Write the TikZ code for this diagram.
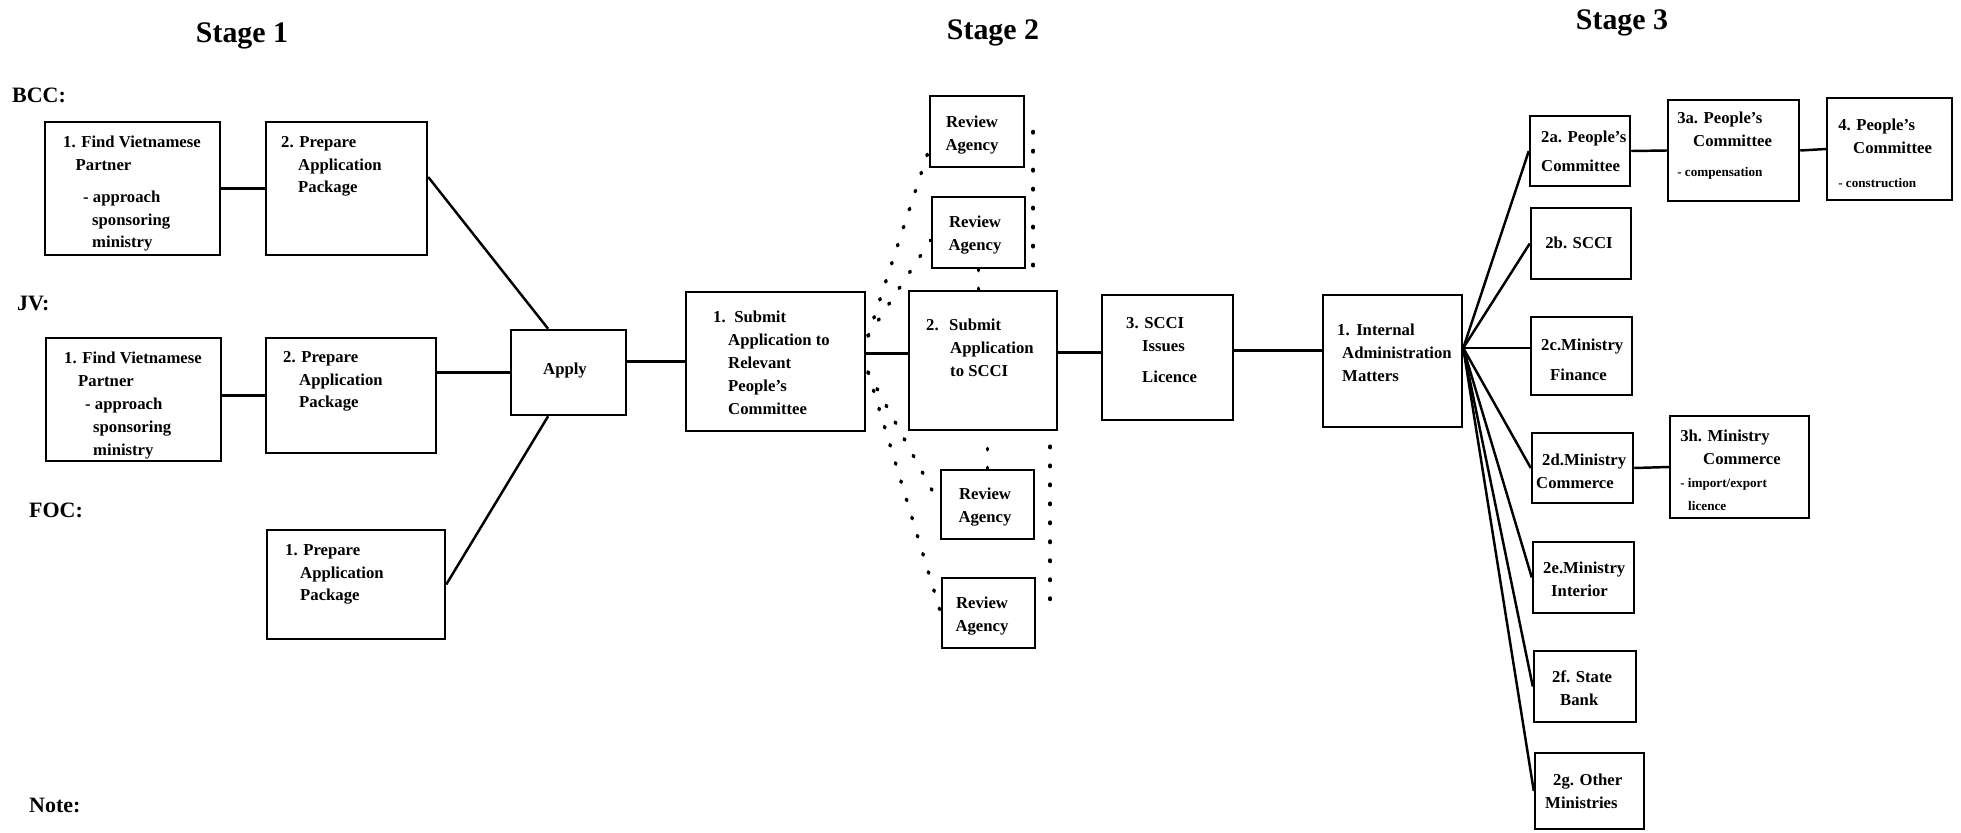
\documentclass[tikz,border=0pt]{standalone}
\usepackage{fontspec}
\setmainfont{Liberation Serif}
\usetikzlibrary{fit}
\newcommand{\smallfont}{\fontsize{7.5}{9}\selectfont}
\tikzset{box/.style={draw, line width=1.4pt, inner sep=0pt},
txt/.style={inner sep=0pt, anchor=north west, align=left, font=\fontsize{9.5}{13}\selectfont\bfseries},
stage/.style={inner sep=0pt, font=\fontsize{17}{20}\selectfont\bfseries},
kind/.style={inner sep=0pt, anchor=west, font=\fontsize{12.5}{15}\selectfont\bfseries},
dotline/.style={line width=2pt, line cap=round, dash pattern=on 0.8pt off 10pt}}

\begin{document}
\begin{tikzpicture}[x=0.02cm, y=-0.02cm, line width=1.4pt]
\useasboundingbox (0,0) rectangle (1961,832);

    % headings
    \node[stage] (st1) at (242,36) {Stage 1};
    \node[stage] (st2) at (993,33) {Stage 2};
    \node[stage] (st3) at (1622,23) {Stage 3};

    \node[kind] (bcc) at (11,95) {BCC:};
    \node[kind] (jv) at (16,303) {JV:};
    \node[kind] (foc) at (28,510) {FOC:};
    \node[kind] (note) at (28,805) {Note:};

    % stage 1
    \node[box, fit={(45,122) (220,255)}] (bccfind) {};
    \node[box, fit={(266,122) (427,255)}] (bccprep) {};
    \node[box, fit={(46,338) (221,461)}] (jvfind) {};
    \node[box, fit={(266,338) (436,453)}] (jvprep) {};
    \node[box, fit={(267,530) (445,639)}] (focprep) {};
    \node[box, fit={(511,330) (626,415)}] (apply) {};

    \node[txt] (bccfind-t) at (62,135) {1. Find Vietnamese\\ \hspace*{0.25cm}Partner\\[5pt] \hspace*{0.4cm}- approach\\ \hspace*{0.58cm}sponsoring\\ \hspace*{0.58cm}ministry};
    \node[txt] (bccprep-t) at (280,135) {2. Prepare\\ \hspace*{0.34cm}Application\\ \hspace*{0.34cm}Package};
    \node[txt] (jvfind-t) at (63,351) {1. Find Vietnamese\\ \hspace*{0.28cm}Partner\\ \hspace*{0.42cm}- approach\\ \hspace*{0.58cm}sponsoring\\ \hspace*{0.58cm}ministry};
    \node[txt] (jvprep-t) at (282,350) {2. Prepare\\ \hspace*{0.32cm}Application\\ \hspace*{0.32cm}Package};
    \node[txt] (focprep-t) at (284,543) {1. Prepare\\ \hspace*{0.3cm}Application\\ \hspace*{0.3cm}Package};
    \node[txt, anchor=center] (apply-t) at (565,371) {Apply};

    % stage 2
    \node[box, fit={(686,292) (865,431)}] (subpc) {};
    \node[box, fit={(930,96) (1024,167)}] (ra1) {};
    \node[box, fit={(932,197) (1025,268)}] (ra2) {};
    \node[box, fit={(909,291) (1057,430)}] (subscci) {};
    \node[box, fit={(941,470) (1034,539)}] (ra3) {};
    \node[box, fit={(942,578) (1035,648)}] (ra4) {};
    \node[box, fit={(1102,295) (1233,420)}] (licence) {};

    \node[txt] (subpc-t) at (712,310) {1.\hspace{0.17cm}Submit\\ \hspace*{0.3cm}Application to\\ \hspace*{0.3cm}Relevant\\ \hspace*{0.3cm}People's\\ \hspace*{0.3cm}Committee};
    \node[txt, anchor=center, align=center] (ra1-t) at (972,135) {Review\\Agency};
    \node[txt, anchor=center, align=center] (ra2-t) at (975,235) {Review\\Agency};
    \node[txt] (subscci-t) at (925,318) {2.\hspace{0.21cm}Submit\\ \hspace*{0.48cm}Application\\ \hspace*{0.48cm}to SCCI};
    \node[txt, anchor=center, align=center] (ra3-t) at (985,507) {Review\\Agency};
    \node[txt, anchor=center, align=center] (ra4-t) at (982,616) {Review\\Agency};
    \node[txt] (licence-t) at (1125,316) {3. SCCI\\ \hspace*{0.32cm}Issues\\[5pt] \hspace*{0.32cm}Licence};

    % stage 3
    \node[box, fit={(1323,295) (1462,427)}] (internal) {};
    \node[box, fit={(1530,116) (1630,186)}] (pc2a) {};
    \node[box, fit={(1531,208) (1631,279)}] (scci2b) {};
    \node[box, fit={(1531,317) (1632,395)}] (fin2c) {};
    \node[box, fit={(1532,433) (1633,503)}] (com2d) {};
    \node[box, fit={(1533,542) (1634,613)}] (int2e) {};
    \node[box, fit={(1534,651) (1636,722)}] (bank2f) {};
    \node[box, fit={(1535,753) (1644,829)}] (oth2g) {};
    \node[box, fit={(1668,100) (1799,201)}] (pc3a) {};
    \node[box, fit={(1827,98) (1952,200)}] (pc4) {};
    \node[box, fit={(1670,416) (1809,518)}] (com3h) {};

    \node[txt] (internal-t) at (1336,323) {1.\hspace{0.13cm}Internal\\ \hspace*{0.1cm}Administration\\ \hspace*{0.1cm}Matters};
    \node[txt] (pc2a-t) at (1540,130) {2a. People's\\[3.5pt] Committee};
    \node[txt, anchor=center] (scci2b-t) at (1579,243) {2b. SCCI};
    \node[txt] (fin2c-t) at (1540,338) {2c.Ministry\\[4pt] \hspace*{0.18cm}Finance};
    \node[txt] (com2d-t) at (1535,453) {\hspace*{0.12cm}2d.Ministry\\ Commerce};
    \node[txt] (int2e-t) at (1542,561) {2e.Ministry\\ \hspace*{0.16cm}Interior};
    \node[txt] (bank2f-t) at (1551,670) {2f. State\\ \hspace*{0.16cm}Bank};
    \node[txt] (oth2g-t) at (1544,773) {\hspace*{0.16cm}2g. Other\\ Ministries};
    \node[txt] (pc3a-t) at (1676,111) {3a. People's\\ \hspace*{0.32cm}Committee\\[4pt] {\smallfont - compensation}};
    \node[txt] (pc4-t) at (1837,118) {4. People's\\ \hspace*{0.3cm}Committee\\[6pt] {\smallfont - construction}};
    \node[txt] (com3h-t) at (1679,429) {3h. Ministry\\ \hspace*{0.46cm}Commerce\\ {\smallfont - import/export}\\ {\smallfont\hspace*{0.16cm}licence}};

    % connectors
    \draw (bccfind.east) -- (bccprep.west);
    \draw (jvprep.west -| jvfind.east) -- (jvprep.west);
    \draw (bccprep.8) -- (apply.115);
    \draw (apply.west) -- (apply.west -| jvprep.east);
    \draw (focprep.east) -- (apply.245);
    \draw (subpc.west -| apply.east) -- (subpc.west);
    \draw ([yshift=0.16cm]subpc.east) -- ([yshift=0.16cm]subpc.east -| subscci.west);
    \draw ([yshift=0.16cm]subscci.east) -- ([yshift=0.16cm]subscci.east -| licence.west);
    \draw ([yshift=0.14cm]licence.east) -- ([yshift=0.14cm]licence.east -| internal.west);

    \coordinate (fan) at ([yshift=0.26cm]internal.east);
    \foreach \n in {pc2a, scci2b, com2d, int2e, bank2f, oth2g}
    \draw (fan) -- (\n.west);
    \draw (fan) -- (fan -| fin2c.west);

    \draw (pc2a.east) -- (pc3a.west);
    \draw (pc3a.east) -- (pc4.west);
    \draw (com2d.east) -- (com3h.west);

    % review agencies
    \coordinate (dtop) at (868,336);
    \coordinate (dbot) at (868,372);
    \draw[dotline] (dtop) -- (ra1.201);
    \draw[dotline] (dtop) -- (ra2.189);
    \draw[dotline] (dbot) -- (ra3.west);
    \draw[dotline] (dbot) -- (ra4.west);
    \draw[dotline] (ra2.south) -- (ra2.south |- subscci.north);
    \draw[dotline] (ra3.north) -- (ra3.north |- subscci.south);
    \draw[dotline, shorten >=0.3cm] ([xshift=0.16cm]ra1.east) -- ([xshift=0.16cm]ra1.east |- subscci.north);
    \draw[dotline, shorten <=0.3cm] ([xshift=-0.16cm]subscci.south east) -- ([xshift=-0.16cm]subscci.south east |- ra4.east);

\end{tikzpicture}
\end{document}
